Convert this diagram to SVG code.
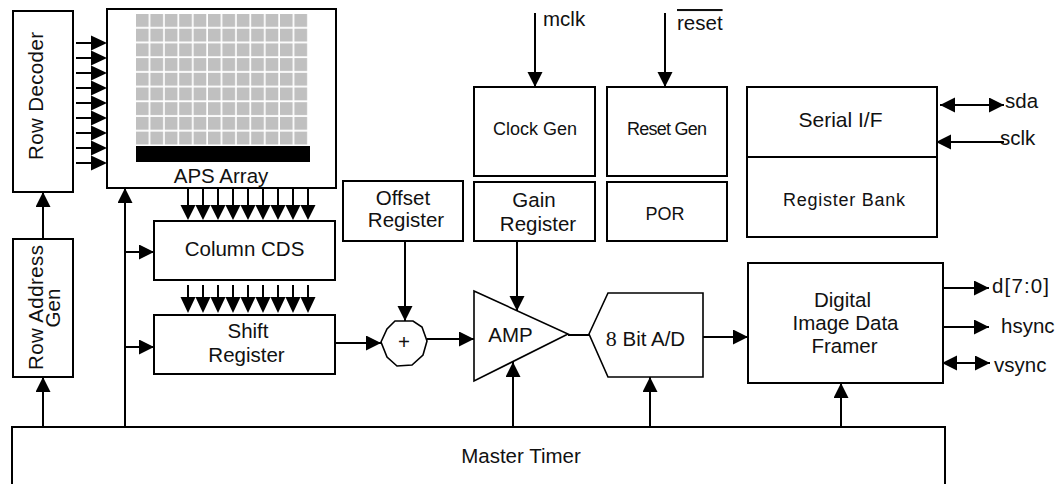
<svg xmlns="http://www.w3.org/2000/svg" width="1060" height="484" viewBox="0 0 1060 484">
<style>
.box{fill:#fff;stroke:#000;stroke-width:2}
.thin{fill:#fff;stroke:#000;stroke-width:1.6}
.ln{fill:none;stroke:#000;stroke-width:2}
.a{marker-end:url(#ah)}
.b{marker-start:url(#ah);marker-end:url(#ah)}
.t{font-family:"Liberation Sans",Arial,Helvetica,sans-serif;font-size:20.5px;fill:#111;text-anchor:middle}
.s{text-anchor:start}
.cell{fill:#c0c0c0}
.tri{fill:#000}
</style>
<defs>
<marker id="ah" markerUnits="userSpaceOnUse" markerWidth="16" markerHeight="16" refX="15" refY="7.5" orient="auto-start-reverse" viewBox="0 0 16 16">
<path d="M0,0 L15,7.5 L0,15 z" fill="#000"/>
</marker>
<pattern id="grid" x="136" y="14" width="14.4" height="14.7" patternUnits="userSpaceOnUse">
<rect width="12.7" height="12.9" class="cell"/>
</pattern>
</defs>
<rect width="1060" height="484" fill="#fff"/>

<g id="master-timer">
<rect class="box" x="12" y="427" width="933" height="80"/>
<text class="t" x="521" y="463">Master Timer</text>
</g>

<g id="row-decoder">
<rect class="box" x="13" y="11" width="60" height="181"/>
<text class="t" transform="translate(43,96) rotate(-90)" textLength="128">Row Decoder</text>
</g>

<g id="row-address-gen">
<rect class="box" x="13" y="239" width="60" height="138"/>
<text class="t" transform="translate(43,307.5) rotate(-90)" textLength="125">Row Address</text>
<text class="t" transform="translate(60,308) rotate(-90)">Gen</text>
</g>

<g id="aps-array">
<rect class="box" x="107" y="9" width="229" height="179"/>
<rect x="136" y="14" width="172" height="131" fill="url(#grid)"/>
<rect x="136" y="146" width="174" height="16" fill="#000"/>
<text class="t" x="221" y="183">APS Array</text>
</g>

<g id="column-cds">
<rect class="box" x="154" y="221" width="181" height="59"/>
<text class="t" x="244.5" y="256">Column CDS</text>
</g>

<g id="shift-register">
<rect class="box" x="154" y="315" width="181" height="59"/>
<text class="t" x="248" y="338">Shift</text>
<text class="t" x="246.5" y="362">Register</text>
</g>

<g id="offset-register">
<rect class="box" x="343" y="181" width="120" height="60"/>
<text class="t" x="403" y="205">Offset</text>
<text class="t" x="406" y="227">Register</text>
</g>

<g id="adder">
<polygon class="thin" points="381,342 387,329 395,321 413,321 422,327 427,341 423,355 412,365 397,366 387,357"/>
<text class="t" x="404" y="349">+</text>
</g>

<g id="clock-gen">
<rect class="box" x="474" y="87" width="121" height="89"/>
<text class="t" x="535" y="135" style="font-size:18px">Clock Gen</text>
</g>

<g id="gain-register">
<rect class="box" x="474" y="182" width="121" height="59"/>
<text class="t" x="534" y="207">Gain</text>
<text class="t" x="538" y="231">Register</text>
</g>

<g id="reset-gen">
<rect class="box" x="607" y="87" width="120" height="89"/>
<text class="t" x="667" y="135" style="font-size:18px" textLength="80">Reset Gen</text>
</g>

<g id="por">
<rect class="box" x="607" y="182" width="120" height="59"/>
<text class="t" x="665" y="220" style="font-size:18px">POR</text>
</g>

<g id="serial-if">
<rect class="box" x="747" y="87" width="190" height="150"/>
<line class="ln" x1="747" y1="157" x2="937" y2="157"/>
<text class="t" x="840.5" y="127" style="font-size:21px">Serial I/F</text>
<text class="t" x="844" y="206" style="font-size:18px" textLength="122">Register Bank</text>
</g>

<g id="amp">
<polygon class="thin" points="474,291 568,334 474,381"/>
<text class="t" x="510.5" y="342">AMP</text>
</g>

<g id="adc">
<polygon class="thin" points="589,334 608,293 703,293 703,377 608,377"/>
<text class="t" x="645.5" y="346"><tspan style="font-family:'Liberation Serif','Times New Roman',serif;font-size:22px">8</tspan> Bit A/D</text>
</g>

<g id="framer">
<rect class="box" x="748" y="263" width="195" height="120"/>
<text class="t" x="842.5" y="307">Digital</text>
<text class="t" x="845.5" y="330">Image Data</text>
<text class="t" x="844.5" y="353">Framer</text>
</g>

<g id="signals">
<text class="t s" x="543" y="26">mclk</text>
<text class="t s" x="677" y="30" text-decoration="overline">reset</text>
<text class="t s" x="1005" y="108">sda</text>
<text class="t s" x="1000" y="145">sclk</text>
<text class="t s" x="992" y="293" textLength="57">d[7:0]</text>
<text class="t s" x="1001" y="333">hsync</text>
<text class="t s" x="994" y="372">vsync</text>
</g>

<g id="connectors">
<line class="ln a" x1="535" y1="13" x2="535" y2="87"/>
<line class="ln a" x1="665" y1="13" x2="665" y2="87"/>
<line class="ln b" x1="940" y1="105" x2="1004" y2="105"/>
<line class="ln a" x1="1004" y1="142" x2="936" y2="142"/>
<line class="ln a" x1="943" y1="288" x2="989" y2="288"/>
<line class="ln a" x1="943" y1="327" x2="989" y2="327"/>
<line class="ln b" x1="942" y1="363" x2="990" y2="363"/>
<g class="ln">
<line x1="76" y1="43" x2="92" y2="43"/>
<line x1="76" y1="58" x2="92" y2="58"/>
<line x1="76" y1="73" x2="92" y2="73"/>
<line x1="76" y1="88" x2="92" y2="88"/>
<line x1="76" y1="103" x2="92" y2="103"/>
<line x1="76" y1="118" x2="92" y2="118"/>
<line x1="76" y1="133" x2="92" y2="133"/>
<line x1="76" y1="148" x2="92" y2="148"/>
<line x1="76" y1="163" x2="92" y2="163"/>
</g>
<g class="tri">
<path d="M91,35.5 L107,43 L91,50.5 z M91,50.5 L107,58 L91,65.5 z M91,65.5 L107,73 L91,80.5 z M91,80.5 L107,88 L91,95.5 z M91,95.5 L107,103 L91,110.5 z M91,110.5 L107,118 L91,125.5 z M91,125.5 L107,133 L91,140.5 z M91,140.5 L107,148 L91,155.5 z M91,155.5 L107,163 L91,170.5 z"/>
</g>
<g class="ln">
<line x1="188" y1="188" x2="188" y2="206"/>
<line x1="203" y1="188" x2="203" y2="206"/>
<line x1="218" y1="188" x2="218" y2="206"/>
<line x1="233" y1="188" x2="233" y2="206"/>
<line x1="248" y1="188" x2="248" y2="206"/>
<line x1="263" y1="188" x2="263" y2="206"/>
<line x1="278" y1="188" x2="278" y2="206"/>
<line x1="293" y1="188" x2="293" y2="206"/>
<line x1="308" y1="188" x2="308" y2="206"/>
</g>
<g class="tri">
<path d="M180.5,205 L195.5,205 L188,220 z M195.5,205 L210.5,205 L203,220 z M210.5,205 L225.5,205 L218,220 z M225.5,205 L240.5,205 L233,220 z M240.5,205 L255.5,205 L248,220 z M255.5,205 L270.5,205 L263,220 z M270.5,205 L285.5,205 L278,220 z M285.5,205 L300.5,205 L293,220 z M300.5,205 L315.5,205 L308,220 z"/>
</g>
<g class="ln">
<line x1="188" y1="285" x2="188" y2="298"/>
<line x1="203" y1="285" x2="203" y2="298"/>
<line x1="218" y1="285" x2="218" y2="298"/>
<line x1="233" y1="285" x2="233" y2="298"/>
<line x1="248" y1="285" x2="248" y2="298"/>
<line x1="263" y1="285" x2="263" y2="298"/>
<line x1="278" y1="285" x2="278" y2="298"/>
<line x1="293" y1="285" x2="293" y2="298"/>
<line x1="308" y1="285" x2="308" y2="298"/>
</g>
<g class="tri">
<path d="M180.5,297 L195.5,297 L188,313 z M195.5,297 L210.5,297 L203,313 z M210.5,297 L225.5,297 L218,313 z M225.5,297 L240.5,297 L233,313 z M240.5,297 L255.5,297 L248,313 z M255.5,297 L270.5,297 L263,313 z M270.5,297 L285.5,297 L278,313 z M285.5,297 L300.5,297 L293,313 z M300.5,297 L315.5,297 L308,313 z"/>
</g>
<line class="ln a" x1="43" y1="427" x2="43" y2="377"/>
<line class="ln a" x1="43" y1="239" x2="43" y2="192"/>
<line class="ln a" x1="125" y1="427" x2="125" y2="188"/>
<line class="ln a" x1="125" y1="252" x2="154" y2="252"/>
<line class="ln a" x1="125" y1="347" x2="154" y2="347"/>
<line class="ln a" x1="513" y1="427" x2="513" y2="362"/>
<line class="ln a" x1="650" y1="427" x2="650" y2="377"/>
<line class="ln a" x1="841" y1="427" x2="841" y2="383"/>
<line class="ln a" x1="335" y1="343" x2="381" y2="343"/>
<line class="ln a" x1="405" y1="241" x2="405" y2="321"/>
<line class="ln a" x1="427" y1="339" x2="474" y2="339"/>
<line class="ln a" x1="517" y1="241" x2="517" y2="311"/>
<line class="ln" x1="568" y1="335" x2="589" y2="335"/>
<line class="ln a" x1="703" y1="337" x2="748" y2="337"/>
</g>
</svg>
